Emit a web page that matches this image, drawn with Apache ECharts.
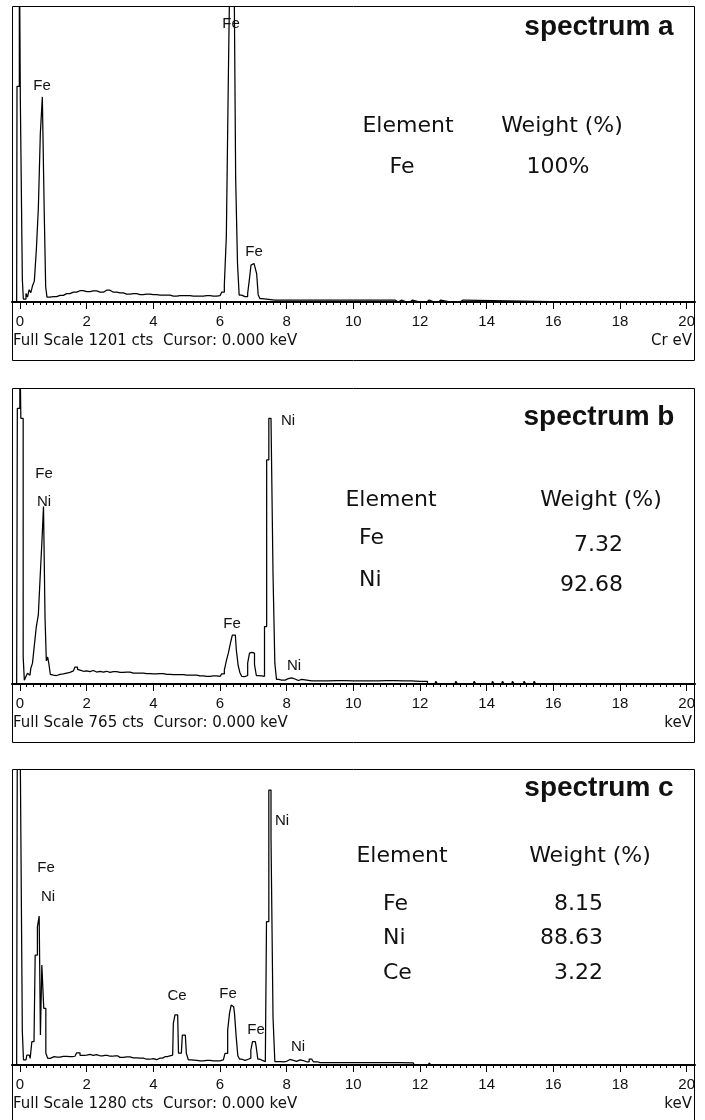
<!DOCTYPE html>
<html>
<head>
<meta charset="utf-8">
<title>EDS spectra a, b, c</title>
<script src="https://cdn.jsdelivr.net/npm/echarts@6/dist/echarts.min.js"></script>
<style>
  html, body { margin: 0; padding: 0; background: #fff; }
  #chart { width: 705px; height: 1120px; }
</style>
</head>
<body>
<div id="chart"></div>
<script>
// energy axis (keV)
var majorTicks = [0, 2, 4, 6, 8, 10, 12, 14, 16, 18, 20];
var minorTicks = [];
for (var t = 0; t <= 100; t++) minorTicks.push(Math.round(t * 2) / 10);

// spectrum a  (Full Scale 1201 cts)
var fullScaleA = 1201;
var energyA = [
  -0.24, -0.1, -0.08, -0.04, 0.0, 0.02, 0.06, 0.08, 0.12, 0.16,
  0.2, 0.25, 0.3, 0.35, 0.4, 0.46, 0.52, 0.58, 0.64, 0.7,
  0.75, 0.79, 0.83, 0.9, 1.0, 1.2, 1.4, 1.6, 1.8, 2.0,
  2.2, 2.4, 2.6, 2.8, 3.0, 3.2, 3.4, 3.6, 3.8, 4.0,
  4.2, 4.4, 4.6, 4.8, 5.0, 5.2, 5.4, 5.6, 5.8, 6.0,
  6.1, 6.16, 6.22, 6.28, 6.34, 6.4, 6.44, 6.5, 6.55, 6.6,
  6.7, 6.8, 6.86, 6.9, 6.96, 7.02, 7.08, 7.12, 7.17, 7.22,
  7.3, 8.0, 9.0, 10.0, 11.25, 11.3, 11.4, 11.5, 11.7, 11.75,
  11.8, 12.2, 12.25, 12.3, 12.55, 12.6, 12.65, 13.2, 13.26, 13.32, 20.25
];
var countsA = [
  0, 0, 878, 878, 1500, 824, 824, 93, 12, 12,
  35, 20, 50, 38, 66, 85, 212, 381, 686, 835,
  381, 62, 20, 20, 22, 27, 34, 40, 46, 42,
  45, 40, 48, 40, 37, 32, 34, 30, 32, 30,
  28, 28, 24, 26, 26, 24, 24, 26, 24, 26,
  40, 70, 267, 910, 1500, 1500, 1400, 503, 157, 28,
  22, 22, 35, 90, 150, 157, 150, 115, 30, 14,
  8, 8, 8, 8, 8, 0, 8, 0, 0, 8,
  0, 0, 8, 0, 0, 8, 0, 0, 8, 0, 0
];

// spectrum b  (Full Scale 765 cts)
var fullScaleB = 765;
var energyB = [
  -0.24, -0.1, -0.06, -0.02, 0.01, 0.04, 0.08, 0.11, 0.15, 0.2,
  0.25, 0.3, 0.35, 0.4, 0.46, 0.52, 0.58, 0.63, 0.68, 0.73,
  0.77, 0.81, 0.85, 0.89, 0.93, 1.0, 1.1, 1.2, 1.3, 1.4,
  1.5, 1.6, 1.7, 1.75, 1.8, 1.9, 2.0, 2.1, 2.2, 2.3,
  2.4, 2.5, 2.6, 2.7, 2.8, 3.0, 3.2, 3.4, 3.6, 3.8,
  4.0, 4.2, 4.4, 4.6, 4.8, 5.0, 5.2, 5.4, 5.6, 5.8,
  6.0, 6.1, 6.16, 6.22, 6.28, 6.34, 6.4, 6.46, 6.52, 6.57,
  6.62, 6.68, 6.74, 6.8, 6.86, 6.91, 6.96, 7.01, 7.06, 7.12,
  7.2, 7.3, 7.37, 7.43, 7.5, 7.56, 7.62, 7.67, 7.72, 7.8,
  7.9, 8.0, 8.1, 8.2, 8.3, 8.4, 8.5, 9.0, 9.5, 10.0,
  10.5, 11.0, 11.5, 12.0, 12.45, 12.5, 12.55, 13.05, 13.1, 13.15,
  13.6, 13.65, 13.7, 14.15, 14.2, 14.25, 14.45, 14.5, 14.55, 14.75,
  14.8, 14.85, 15.1, 15.15, 15.2, 15.4, 15.45, 15.5, 20.25
];
var countsB = [
  0, 0, 715, 715, 900, 689, 689, 71, 10, 19,
  28, 23, 41, 54, 100, 149, 179, 278, 365, 460,
  175, 60, 70, 50, 25, 23, 22, 25, 26, 28,
  30, 34, 44, 38, 36, 33, 34, 32, 35, 31,
  33, 31, 33, 30, 32, 30, 31, 28, 28, 27,
  26, 27, 25, 24, 24, 23, 23, 21, 20, 21,
  20, 26, 36, 60, 80, 105, 127, 127, 88, 48,
  30, 20, 19, 22, 54, 80, 82, 80, 50, 22,
  21, 20, 149, 581, 689, 689, 287, 54, 12, 10,
  10, 14, 16, 13, 9, 12, 8, 8, 9, 8,
  8, 9, 8, 7, 0, 7, 0, 0, 7, 0,
  0, 7, 0, 0, 7, 0, 0, 7, 0, 0,
  7, 0, 0, 7, 0, 0, 7, 0, 0
];

// spectrum c  (Full Scale 1280 cts)
var fullScaleC = 1280;
var energyC = [
  -0.24, -0.1, -0.06, 0.0, 0.05, 0.09, 0.12, 0.18, 0.23, 0.28,
  0.33, 0.38, 0.42, 0.49, 0.555, 0.595, 0.63, 0.68, 0.745, 0.805,
  0.86, 0.95, 1.1, 1.3, 1.5, 1.65, 1.75, 1.85, 2.0, 2.1,
  2.2, 2.3, 2.4, 2.55, 2.7, 2.85, 3.0, 3.2, 3.4, 3.6,
  3.8, 4.0, 4.1, 4.2, 4.35, 4.5, 4.58, 4.62, 4.68, 4.73,
  4.78, 4.84, 4.9, 4.96, 5.02, 5.08, 5.2, 5.4, 5.6, 5.8,
  6.0, 6.1, 6.2, 6.26, 6.31, 6.36, 6.41, 6.46, 6.51, 6.56,
  6.62, 6.7, 6.8, 6.9, 6.95, 7.0, 7.06, 7.11, 7.16, 7.24,
  7.3, 7.36, 7.43, 7.5, 7.56, 7.62, 7.67, 7.75, 7.9, 8.0,
  8.1, 8.2, 8.3, 8.4, 8.5, 8.6, 8.75, 8.85, 9.0, 10.0,
  11.0, 11.8, 11.85, 12.25, 12.3, 12.35, 20.25
];
var countsC = [
  0, 0, 1500, 1500, 1500, 145, 22, 22, 43, 43,
  29, 101, 101, 477, 600, 646, 130, 434, 246, 51,
  29, 36, 34, 37, 36, 38, 53, 42, 43, 46,
  42, 45, 40, 42, 38, 40, 33, 35, 31, 30,
  25, 28, 23, 30, 36, 40, 43, 181, 217, 217,
  51, 51, 130, 130, 51, 22, 20, 18, 20, 18,
  18, 22, 50, 150, 224, 260, 253, 224, 123, 40,
  25, 20, 25, 30, 65, 101, 101, 80, 25, 20,
  15, 15, 622, 1193, 990, 210, 15, 15, 14, 16,
  24, 20, 16, 22, 19, 14, 26, 14, 10, 10,
  10, 9, 0, 0, 9, 0, 0
];

// peak labels and quantification tables
var peakNamesA = ['Fe', 'Fe', 'Fe'];
var peakNamesB = ['Fe', 'Ni', 'Ni', 'Fe', 'Ni'];
var peakNamesC = ['Ni', 'Fe', 'Ni', 'Ce', 'Fe', 'Fe', 'Ni'];
var elementsA = ['Fe'];
var weightsA = ['100%'];
var elementsB = ['Fe', 'Ni'];
var weightsB = ['7.32', '92.68'];
var elementsC = ['Fe', 'Ni', 'Ce'];
var weightsC = ['8.15', '88.63', '3.22'];

var panels = [
  {
    title: 'spectrum a', energy: energyA, counts: countsA, fullScale: fullScaleA, unit: 'Cr eV',
    top: 7, frameTop: 6.5, frameH: 354, titleY: 27,
    peaks: peakNamesA, peakPos: [[42, 86], [231, 24], [254, 252]],
    elements: elementsA, weights: weightsA,
    head: {y: 126, ex: 408, wx: 562},
    elemX: 402, elemAlign: 'center', elemY: [167],
    wtX: 558, wtAlign: 'center', wtY: [167]
  },
  {
    title: 'spectrum b', energy: energyB, counts: countsB, fullScale: fullScaleB, unit: 'keV',
    top: 389, frameTop: 388.5, frameH: 354, titleY: 417,
    peaks: peakNamesB, peakPos: [[44, 474], [44, 502], [288, 421], [232, 624], [294, 666]],
    elements: elementsB, weights: weightsB,
    head: {y: 500, ex: 391, wx: 601},
    elemX: 359, elemAlign: 'left', elemY: [538, 580],
    wtX: 623, wtAlign: 'right', wtY: [545, 585]
  },
  {
    title: 'spectrum c', energy: energyC, counts: countsC, fullScale: fullScaleC, unit: 'keV',
    top: 770, frameTop: 769.5, frameH: 360, titleY: 788,
    peaks: peakNamesC, peakPos: [[282, 821], [46, 868], [48, 897], [177, 996], [228, 994], [256, 1030], [298, 1047]],
    elements: elementsC, weights: weightsC,
    head: {y: 856, ex: 402, wx: 590},
    elemX: 383, elemAlign: 'left', elemY: [904, 938, 973],
    wtX: 603, wtAlign: 'right', wtY: [904, 938, 973]
  }
];

var gridH = 295;
var tableFont = '22px "DejaVu Sans"';
var smallFont = '15px "Liberation Sans"';
var footFont = '15px "DejaVu Sans"';

function txt(x, y, s, font, align) {
  return {
    type: 'text', x: x, y: y, z: 10,
    style: {text: s, font: font, fill: '#111', textAlign: align || 'center', textVerticalAlign: 'middle'}
  };
}

var grids = [], xAxes = [], yAxes = [], series = [], graphics = [];

panels.forEach(function (p, i) {
  grids.push({left: 12, width: 683, top: p.top, height: gridH});

  // minor ticks + labels
  xAxes.push({
    gridIndex: i, type: 'value', position: 'bottom', min: -0.24, max: 20.25,
    axisLine: {show: true, lineStyle: {color: '#000', width: 2}},
    axisTick: {show: true, customValues: minorTicks, length: 3, lineStyle: {color: '#000', width: 1}},
    axisLabel: {show: true, customValues: majorTicks, margin: 12, color: '#111',
      fontSize: 15, fontFamily: 'Liberation Sans'},
    splitLine: {show: false}
  });
  // long ticks every 2 keV
  xAxes.push({
    gridIndex: i, type: 'value', position: 'bottom', min: -0.24, max: 20.25,
    axisLine: {show: false},
    axisTick: {show: true, customValues: majorTicks, length: 7, lineStyle: {color: '#000', width: 1}},
    axisLabel: {show: false},
    splitLine: {show: false}
  });
  yAxes.push({gridIndex: i, type: 'value', min: 0, max: p.fullScale, show: false});

  var pts = p.energy.map(function (e, k) { return [e, p.counts[k]]; });
  series.push({
    type: 'line', xAxisIndex: 2 * i, yAxisIndex: i, data: pts,
    step: 'middle', symbol: 'none', clip: true, animation: false,
    lineStyle: {color: '#000', width: 1.25}
  });

  // frame
  graphics.push({
    type: 'rect', z: 10,
    shape: {x: 12.5, y: p.frameTop, width: 682, height: p.frameH},
    style: {fill: 'none', stroke: '#000', lineWidth: 1}
  });
  graphics.push(txt(599, p.titleY, p.title, 'bold 28px "Liberation Sans"'));

  p.peaks.forEach(function (n, k) {
    graphics.push(txt(p.peakPos[k][0], p.peakPos[k][1], n, smallFont));
  });

  graphics.push(txt(p.head.ex, p.head.y, 'Element', tableFont));
  graphics.push(txt(p.head.wx, p.head.y, 'Weight (%)', tableFont));
  p.elements.forEach(function (n, k) {
    graphics.push(txt(p.elemX, p.elemY[k], n, tableFont, p.elemAlign));
    graphics.push(txt(p.wtX, p.wtY[k], p.weights[k], tableFont, p.wtAlign));
  });

  var footY = p.top + gridH + 39;
  graphics.push(txt(13, footY, 'Full Scale ' + p.fullScale + ' cts  Cursor: 0.000 keV', footFont, 'left'));
  graphics.push(txt(692, footY, p.unit, footFont, 'right'));
});

var chart = echarts.init(document.getElementById('chart'));
chart.setOption({
  animation: false,
  backgroundColor: '#fff',
  grid: grids,
  xAxis: xAxes,
  yAxis: yAxes,
  series: series,
  graphic: graphics
});
</script>
</body>
</html>
